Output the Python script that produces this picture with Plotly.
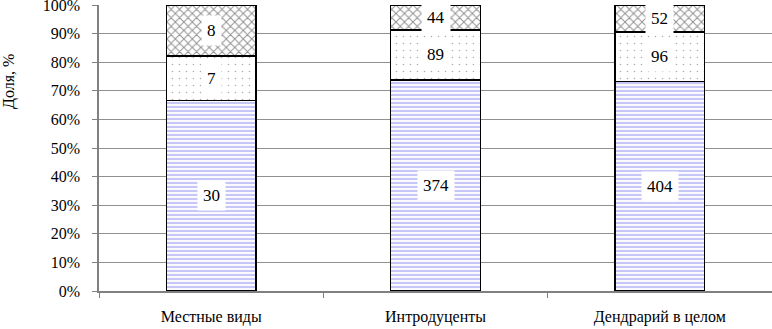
import plotly.graph_objects as go

categories = ["Местные виды", "Интродуценты", "Дендрарий в целом"]
series_bottom = [30, 374, 404]
series_middle = [7, 89, 96]
series_top = [8, 44, 52]
y_ticks = [0, 10, 20, 30, 40, 50, 60, 70, 80, 90, 100]
y_tick_labels = [f"{v}%" for v in y_ticks]

FONT = "Liberation Serif"

fig = go.Figure()
specs = [
    (series_bottom, dict(shape="-", fgcolor="#8f8ff0", bgcolor="white", size=4, solidity=0.55)),
    (series_middle, dict(shape=".", fgcolor="#6e5058", bgcolor="white", size=7, solidity=0.04)),
    (series_top, dict(shape="x", fgcolor="#222222", bgcolor="white", size=6, solidity=0.3)),
]
for vals, pat in specs:
    fig.add_trace(go.Bar(
        x=categories, y=vals, width=0.4,
        marker=dict(color="white", pattern=pat, line=dict(color="black", width=1.5)),
        showlegend=False, hoverinfo="skip",
    ))

annotations = []
for i, cat in enumerate(categories):
    total = series_bottom[i] + series_middle[i] + series_top[i]
    cum = 0
    for vals in (series_bottom, series_middle, series_top):
        v = vals[i]
        mid = (cum + v / 2) / total * 100
        cum += v
        annotations.append(dict(
            x=cat, y=mid, xref="x", yref="y", text=str(v), showarrow=False,
            font=dict(family=FONT, size=17, color="black"),
            bgcolor="white", borderpad=5,
        ))

annotations.append(dict(
    x=-90 / 673, y=(291 - 82) / 286, xref="paper", yref="paper", xanchor="center", yanchor="middle",
    text="Доля, %", textangle=-90, showarrow=False,
    font=dict(family=FONT, size=16, color="black"),
))

fig.update_layout(
    barmode="stack", barnorm="percent",
    width=772, height=329,
    margin=dict(l=99, r=0, t=5, b=38, autoexpand=False),
    paper_bgcolor="white", plot_bgcolor="white",
    font=dict(family=FONT, size=16, color="black"),
    annotations=annotations,
    xaxis=dict(
        type="category", tickson="boundaries", ticks="outside", ticklen=5,
        tickcolor="#808080", showline=True, linecolor="#808080", linewidth=1.5,
        showgrid=False, tickfont=dict(family=FONT, size=16, color="black"),
        automargin=False, ticklabelstandoff=10,
    ),
    yaxis=dict(
        range=[0, 100.01], tickvals=y_ticks, ticktext=y_tick_labels,
        ticks="outside", ticklen=5, tickcolor="#808080",
        showline=True, linecolor="#808080", linewidth=1.5,
        showgrid=True, gridcolor="#909090", gridwidth=1,
        tickfont=dict(family=FONT, size=16, color="black"),
        zeroline=False, automargin=False, ticklabeloverflow="allow",
        ticklabelstandoff=9,
    ),
)

POST = """
document.body.style.margin = '0';
var gd = document.getElementById('{plot_id}');
if (document.fonts && document.fonts.load) {
  Promise.all([
    document.fonts.load('16px "Liberation Serif"'),
    document.fonts.load('16px "Times New Roman"')
  ]).then(function () { Plotly.redraw(gd); }).catch(function () {});
}
"""

fig.write_html("out.html", config={"displayModeBar": False}, post_script=POST)
